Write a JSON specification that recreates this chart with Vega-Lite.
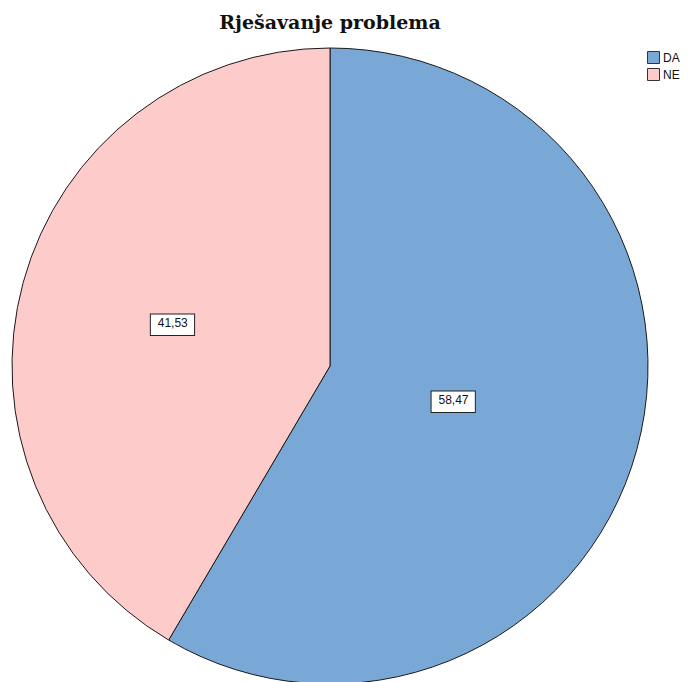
{
  "$schema": "https://vega.github.io/schema/vega-lite/v6.json",
  "width": 660,
  "height": 636,
  "autosize": "none",
  "padding": {"left": 0, "top": 48, "right": 36, "bottom": -2},
  "background": "white",
  "view": {"stroke": null},
  "title": {
    "text": "Rješavanje problema",
    "font": "DejaVu Serif",
    "fontSize": 19,
    "fontWeight": "bold",
    "color": "#111111",
    "anchor": "middle",
    "offset": 13
  },
  "data": {
    "values": [
      {"kategorija": "DA", "postotak": 58.47, "oznaka": "58,47"},
      {"kategorija": "NE", "postotak": 41.53, "oznaka": "41,53"}
    ]
  },
  "encoding": {
    "theta": {"field": "postotak", "type": "quantitative", "stack": true},
    "order": {"field": "postotak", "type": "quantitative", "sort": "descending"},
    "detail": {"field": "kategorija", "type": "nominal"}
  },
  "layer": [
    {
      "mark": {"type": "arc", "stroke": "#1a1a1a", "strokeWidth": 1},
      "encoding": {
        "color": {
          "field": "kategorija",
          "type": "nominal",
          "scale": {"domain": ["DA", "NE"], "range": ["#7aa8d6", "#fecbcb"]},
          "legend": {
            "title": null,
            "orient": "none",
            "legendX": 647,
            "legendY": 3,
            "symbolType": "square",
            "symbolSize": 144,
            "symbolStrokeColor": "#333333",
            "symbolStrokeWidth": 1,
            "symbolOpacity": 1,
            "labelFont": "Liberation Sans",
            "labelFontSize": 12,
            "labelColor": "#111111",
            "labelOffset": 3,
            "rowPadding": 0
          }
        }
      }
    },
    {
      "mark": {"type": "text", "text": "▬", "radius": 128, "font": "DejaVu Sans", "fontSize": 58, "fill": "white", "stroke": "#222222", "strokeWidth": 1},
      "encoding": {"opacity": {"condition": {"test": "datum.kategorija === 'DA'", "value": 1}, "value": 0}}
    },
    {
      "mark": {"type": "text", "radius": 128, "font": "Liberation Sans", "fontSize": 12, "fill": "#111111"},
      "encoding": {
        "text": {"field": "oznaka", "type": "nominal"},
        "opacity": {"condition": {"test": "datum.kategorija === 'DA'", "value": 1}, "value": 0}
      }
    },
    {
      "mark": {"type": "text", "text": "▬", "radius": 163, "font": "DejaVu Sans", "fontSize": 58, "fill": "white", "stroke": "#222222", "strokeWidth": 1},
      "encoding": {"opacity": {"condition": {"test": "datum.kategorija === 'NE'", "value": 1}, "value": 0}}
    },
    {
      "mark": {"type": "text", "radius": 163, "font": "Liberation Sans", "fontSize": 12, "fill": "#111111"},
      "encoding": {
        "text": {"field": "oznaka", "type": "nominal"},
        "opacity": {"condition": {"test": "datum.kategorija === 'NE'", "value": 1}, "value": 0}
      }
    }
  ]
}
